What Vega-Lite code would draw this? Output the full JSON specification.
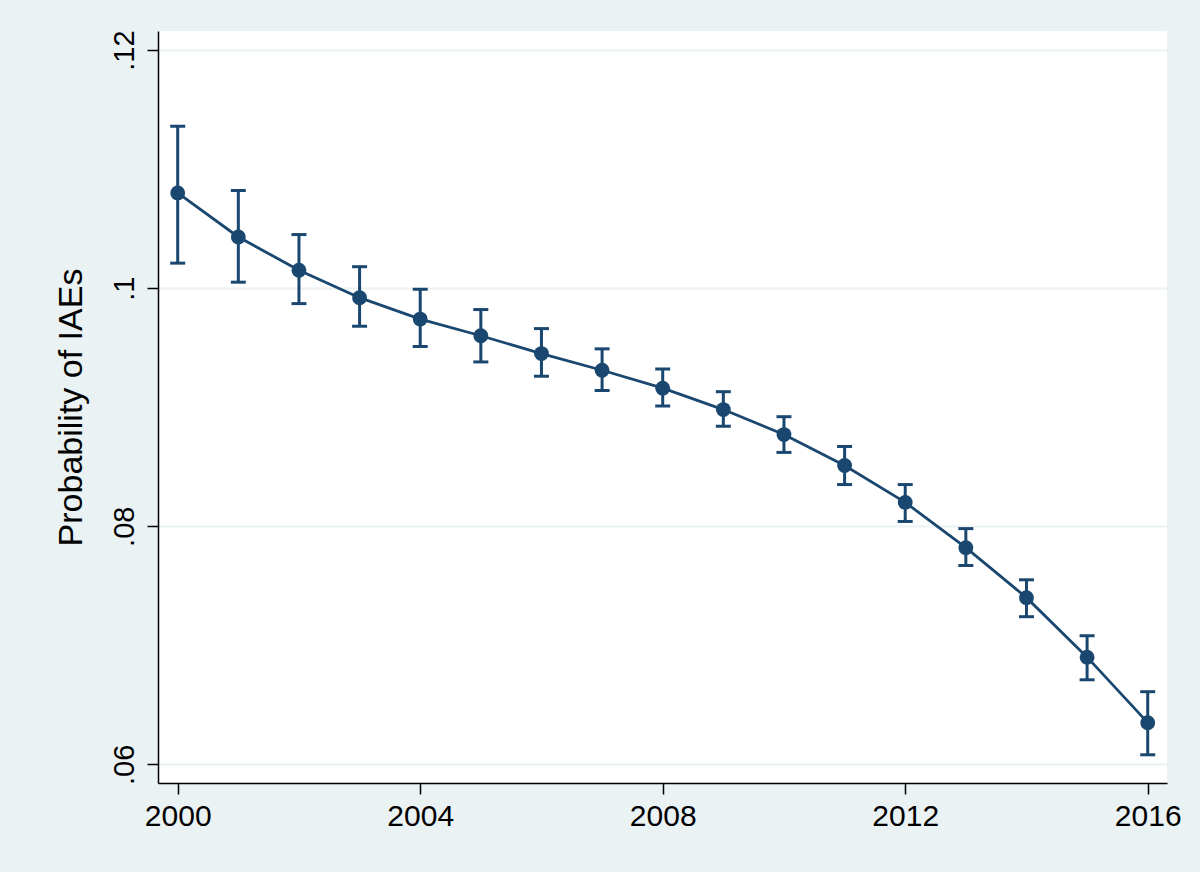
{
  "$schema": "https://vega.github.io/schema/vega-lite/v6.json",
  "width": 1009,
  "height": 752,
  "autosize": {"type": "none"},
  "padding": {"left": 158, "top": 31, "right": 33, "bottom": 89},
  "background": "#eaf2f3",
  "config": {
    "view": {"fill": "white", "stroke": null},
    "font": "Liberation Sans",
    "axis": {
      "domainColor": "black",
      "domainWidth": 1.5,
      "tickColor": "black",
      "tickWidth": 1.5,
      "tickSize": 11,
      "labelColor": "black",
      "titleColor": "black",
      "labelFont": "Liberation Sans",
      "titleFont": "Liberation Sans",
      "titleFontWeight": "normal"
    }
  },
  "data": {
    "values": [
      {"year": 2000, "p": 0.1080, "lo": 0.1021, "hi": 0.1136},
      {"year": 2001, "p": 0.1043, "lo": 0.1005, "hi": 0.1082},
      {"year": 2002, "p": 0.1015, "lo": 0.0987, "hi": 0.1045},
      {"year": 2003, "p": 0.0992, "lo": 0.0968, "hi": 0.1018},
      {"year": 2004, "p": 0.0974, "lo": 0.0951, "hi": 0.0999},
      {"year": 2005, "p": 0.0960, "lo": 0.0938, "hi": 0.0982},
      {"year": 2006, "p": 0.0945, "lo": 0.0926, "hi": 0.0966},
      {"year": 2007, "p": 0.0931, "lo": 0.0914, "hi": 0.0949},
      {"year": 2008, "p": 0.0916, "lo": 0.0901, "hi": 0.0932},
      {"year": 2009, "p": 0.0898, "lo": 0.0884, "hi": 0.0913},
      {"year": 2010, "p": 0.0877, "lo": 0.0862, "hi": 0.0892},
      {"year": 2011, "p": 0.0851, "lo": 0.0835, "hi": 0.0867},
      {"year": 2012, "p": 0.0820, "lo": 0.0804, "hi": 0.0835},
      {"year": 2013, "p": 0.0782, "lo": 0.0767, "hi": 0.0798},
      {"year": 2014, "p": 0.0740, "lo": 0.0724, "hi": 0.0755},
      {"year": 2015, "p": 0.0690, "lo": 0.0671, "hi": 0.0708},
      {"year": 2016, "p": 0.0635, "lo": 0.0608, "hi": 0.0661}
    ]
  },
  "encoding": {
    "x": {
      "field": "year",
      "type": "quantitative",
      "scale": {"domain": [1999.675, 2016.318], "nice": false, "zero": false},
      "axis": {
        "title": null,
        "values": [2000, 2004, 2008, 2012, 2016],
        "format": "d",
        "grid": false,
        "labelFontSize": 30,
        "labelPadding": 7,
        "labelFlush": false
      }
    }
  },
  "layer": [
    {
      "mark": {
        "type": "errorbar",
        "ticks": {"size": 15, "thickness": 3, "color": "#1a476f", "opacity": 1},
        "rule": {"strokeWidth": 3, "color": "#1a476f", "opacity": 1},
        "color": "#1a476f"
      },
      "encoding": {
        "y": {
          "field": "lo",
          "type": "quantitative",
          "scale": {"domain": [0.05843, 0.1216], "nice": false, "zero": false},
          "axis": {
            "title": "Probability of IAEs",
            "titleFontSize": 34,
            "titlePadding": 22,
            "values": [0.06, 0.08, 0.1, 0.12],
            "labelExpr": "replace(format(datum.value, '.2~f'), /^0/, '')",
            "labelAngle": -90,
            "labelAlign": "center",
            "labelBaseline": "bottom",
            "labelFontSize": 29,
            "labelPadding": 8,
            "labelFlush": false,
            "grid": true,
            "gridColor": "#eaf2f3",
            "gridWidth": 2
          }
        },
        "y2": {"field": "hi"}
      }
    },
    {
      "mark": {"type": "line", "color": "#1a476f", "strokeWidth": 2.8},
      "encoding": {"y": {"field": "p", "type": "quantitative"}}
    },
    {
      "mark": {"type": "point", "filled": true, "color": "#1a476f", "opacity": 1, "size": 220},
      "encoding": {"y": {"field": "p", "type": "quantitative"}}
    }
  ]
}
